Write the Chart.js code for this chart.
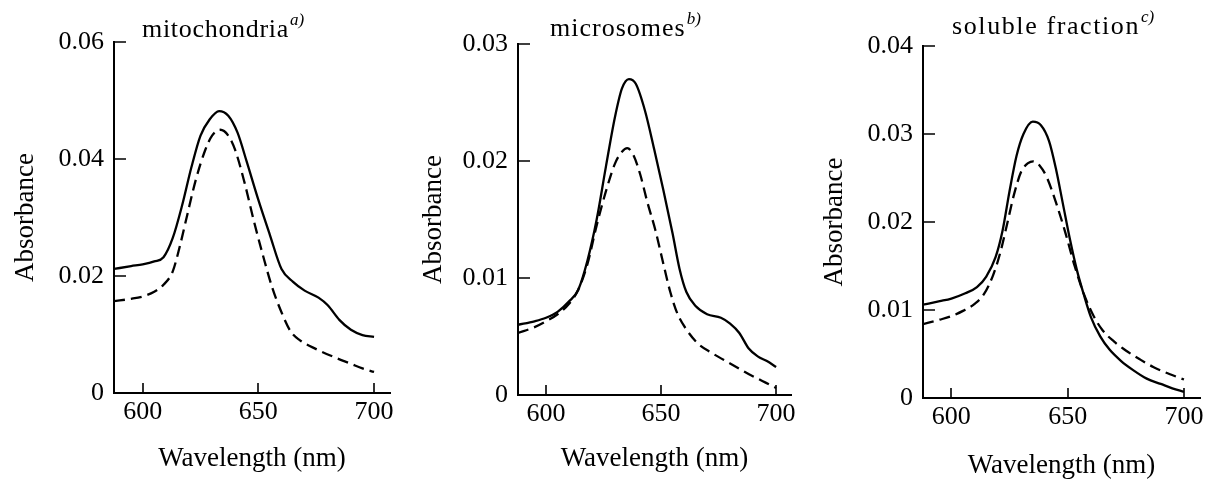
<!DOCTYPE html>
<html><head><meta charset="utf-8">
<script src="https://cdn.jsdelivr.net/npm/chart.js@4"></script>
<style>
html,body{margin:0;padding:0;background:#fff;}
#wrap{position:relative;width:1208px;height:483px;overflow:hidden;}
.p{position:absolute;top:0;height:483px;}
canvas{display:block;}
</style></head><body>
<div id="wrap">
<div class="p" style="left:0;width:400px"><canvas id="c1" width="400" height="483"></canvas></div>
<div class="p" style="left:400px;width:400px"><canvas id="c2" width="400" height="483"></canvas></div>
<div class="p" style="left:800px;width:408px"><canvas id="c3" width="408" height="483"></canvas></div>
</div>
<script>
// ---- tick labels ----
const wavelengthTicks = [600, 650, 700];
const mitoYTicks = [0, 0.02, 0.04, 0.06];
const microYTicks = [0, 0.01, 0.02, 0.03];
const solubleYTicks = [0, 0.01, 0.02, 0.03, 0.04];

// ---- titles ----
const panelTitles = ["mitochondria", "microsomes", "soluble fraction"];
const panelNotes = ["a)", "b)", "c)"];
const xAxisTitle = "Wavelength (nm)";
const yAxisTitle = "Absorbance";

// ---- mitochondria ----
const mitoSolidNm = [587.6,595,600,605,609,613,617,621,625,629,633,637,641,645,650,655,660,665,670,676,680,685,690,695,700];
const mitoSolidAbs = [0.0212,0.0217,0.0220,0.0225,0.0232,0.0265,0.0320,0.0385,0.0440,0.0468,0.0482,0.0474,0.0445,0.0395,0.0330,0.0270,0.0212,0.0190,0.0175,0.0163,0.0150,0.0125,0.0108,0.0099,0.0096];
const mitoDashNm = [587.6,595,600,605,609,613,616,619,623,627,630,633.5,637,640,644,648,652,656,660,664,668,675,683,690,695,700];
const mitoDashAbs = [0.0157,0.0161,0.0165,0.0173,0.0185,0.0208,0.0250,0.0300,0.0365,0.0415,0.0440,0.0450,0.0440,0.0415,0.0360,0.0295,0.0235,0.0180,0.0138,0.0105,0.0090,0.0075,0.0061,0.0050,0.0042,0.0036];

// ---- microsomes ----
const microSolidNm = [587.8,595,600,605,610,614,618,622,626,630,633,636,639,643,647,651,655,658,661,665,670,676,680,684,688,692,696,700];
const microSolidAbs = [0.0060,0.0063,0.0066,0.0071,0.0080,0.0090,0.0115,0.0150,0.0195,0.0238,0.0262,0.0270,0.0266,0.0243,0.0210,0.0175,0.0138,0.0108,0.0088,0.0076,0.0069,0.0066,0.0061,0.0053,0.0040,0.0033,0.0029,0.0024];
const microDashNm = [587.8,595,600,605,610,614,618,622,626,630,633,635.3,638,641,644,647.5,651,654,657,661,666,672,680,688,694,700];
const microDashAbs = [0.0053,0.0058,0.0063,0.0069,0.0078,0.0090,0.0112,0.0145,0.0174,0.0198,0.0208,0.0211,0.0205,0.0188,0.0165,0.0141,0.0112,0.0088,0.0070,0.0056,0.0044,0.0036,0.0027,0.0018,0.0012,0.0006];

// ---- soluble fraction ----
const solSolidNm = [587.8,595,600,606,611,615,619,622,625,628,631,635,638.5,642,645,648,651,654,657,660,664,668,673,678,684,690,695,700];
const solSolidAbs = [0.0106,0.0110,0.0113,0.0119,0.0126,0.0138,0.0160,0.0190,0.0235,0.0275,0.0300,0.0314,0.0310,0.0292,0.0260,0.0220,0.0180,0.0145,0.0117,0.0092,0.0070,0.0055,0.0042,0.0032,0.0022,0.0016,0.0011,0.0007];
const solDashNm = [587.8,595,600,605,610,614,618,621,624,627,630,633,635.2,638,641,645,649,653,657,661,665,670,675,681,687,694,700];
const solDashAbs = [0.0084,0.0089,0.0093,0.0099,0.0107,0.0118,0.0140,0.0165,0.0198,0.0232,0.0257,0.0267,0.0269,0.0264,0.0251,0.0222,0.0188,0.0150,0.0118,0.0094,0.0077,0.0064,0.0054,0.0044,0.0035,0.0027,0.0021];

const SERIF = "'Liberation Serif','Times New Roman',serif";

function pts(xs, ys){ return xs.map((x,i)=>({x:x, y:ys[i]})); }

const inwardTicks = {
  id:'inwardTicks',
  afterDraw(chart, args, o){
    const {ctx, chartArea:a, scales:{x,y}} = chart;
    ctx.save();
    ctx.strokeStyle = '#000';
    ctx.lineWidth = 1.6;
    ctx.beginPath();
    x.ticks.forEach(t=>{ const px = Math.round(x.getPixelForValue(t.value)); ctx.moveTo(px, a.bottom); ctx.lineTo(px, a.bottom - o.xLen); });
    y.ticks.forEach(t=>{ const py = Math.round(y.getPixelForValue(t.value)); ctx.moveTo(a.left, py); ctx.lineTo(a.left + o.yLen, py); });
    ctx.stroke();
    ctx.restore();
  }
};

const panelTitle = {
  id:'panelTitle',
  afterDraw(chart, args, o){
    const {ctx, chartArea:a} = chart;
    ctx.save();
    ctx.fillStyle = '#000';
    ctx.textBaseline = 'alphabetic';
    ctx.textAlign = 'left';
    ctx.letterSpacing = o.spacing + 'px';
    ctx.font = "26px " + SERIF;
    const x0 = a.left + o.dx;
    ctx.fillText(o.text, x0, o.baseline);
    const w = ctx.measureText(o.text).width;
    ctx.letterSpacing = '0px';
    ctx.font = "italic 17px " + SERIF;
    ctx.fillText(o.note, x0 + w + 1, o.baseline - 12);
    ctx.restore();
  }
};

function makeChart(id, cfg){
  const canvasW = document.getElementById(id).width;
  return new Chart(document.getElementById(id), {
    type:'line',
    data:{ datasets:[
      { data: pts(cfg.solidNm, cfg.solidAbs), borderColor:'#000', borderWidth:2.3, pointRadius:0, fill:false, cubicInterpolationMode:'monotone' },
      { data: pts(cfg.dashNm, cfg.dashAbs), borderColor:'#000', borderWidth:2.3, borderDash:[11,6], pointRadius:0, fill:false, cubicInterpolationMode:'monotone' }
    ]},
    options:{
      responsive:false,
      animation:false,
      events:[],
      layout:{ padding:{ top:cfg.top, right:canvasW - cfg.right, left:0, bottom:0 } },
      plugins:{
        legend:{display:false}, tooltip:{enabled:false}, title:{display:false},
        inwardTicks:{ xLen:10, yLen:12 },
        panelTitle:{ text:cfg.title, note:cfg.note, dx:cfg.titleDx, baseline:cfg.titleBase, spacing:cfg.titleSpacing }
      },
      scales:{
        x:{
          type:'linear', min:cfg.xmin, max:cfg.xmax,
          afterBuildTicks(s){ s.ticks = wavelengthTicks.map(v=>({value:v})); },
          afterFit(s){ s.height = 483 - cfg.bottom; },
          grid:{ display:false, drawTicks:false },
          border:{ display:true, color:'#000', width:2 },
          ticks:{ color:'#000', font:{ family:SERIF, size:26 }, padding:4, maxRotation:0, autoSkip:false },
          title:{ display:true, text:xAxisTitle, color:'#000', font:{ family:SERIF, size:27 }, padding:{ top:0, bottom:cfg.xTitlePad } }
        },
        y:{
          type:'linear', min:0, max:cfg.ymax,
          afterBuildTicks(s){ s.ticks = cfg.yTicks.map(v=>({value:v})); },
          afterFit(s){ s.width = cfg.left; },
          grid:{ display:false, drawTicks:false },
          border:{ display:true, color:'#000', width:2 },
          ticks:{ color:'#000', font:{ family:SERIF, size:26 }, padding:10, autoSkip:false,
                  callback:(v)=> v === 0 ? '0' : v.toFixed(2) },
          title:{ display:true, text:yAxisTitle, color:'#000', font:{ family:SERIF, size:27 }, padding:{ top:cfg.yTitlePad, bottom:0 } }
        }
      }
    },
    plugins:[inwardTicks, panelTitle]
  });
}

makeChart('c1', { solidNm:mitoSolidNm, solidAbs:mitoSolidAbs, dashNm:mitoDashNm, dashAbs:mitoDashAbs,
  yTicks:mitoYTicks, ymax:0.06, xmin:587.6, xmax:706.9,
  left:114, right:390, top:42, bottom:393, xTitlePad:8, yTitlePad:10,
  title:panelTitles[0], note:panelNotes[0], titleDx:28, titleBase:37, titleSpacing:0.7 });

makeChart('c2', { solidNm:microSolidNm, solidAbs:microSolidAbs, dashNm:microDashNm, dashAbs:microDashAbs,
  yTicks:microYTicks, ymax:0.03, xmin:587.8, xmax:706.5,
  left:118, right:393, top:44, bottom:395, xTitlePad:8, yTitlePad:18,
  title:panelTitles[1], note:panelNotes[1], titleDx:32, titleBase:36, titleSpacing:1.0 });

makeChart('c3', { solidNm:solSolidNm, solidAbs:solSolidAbs, dashNm:solDashNm, dashAbs:solDashAbs,
  yTicks:solubleYTicks, ymax:0.04, xmin:587.8, xmax:706.9,
  left:123, right:400, top:46, bottom:398, xTitlePad:1, yTitlePad:19,
  title:panelTitles[2], note:panelNotes[2], titleDx:29, titleBase:34, titleSpacing:1.6 });
</script>
</body></html>
